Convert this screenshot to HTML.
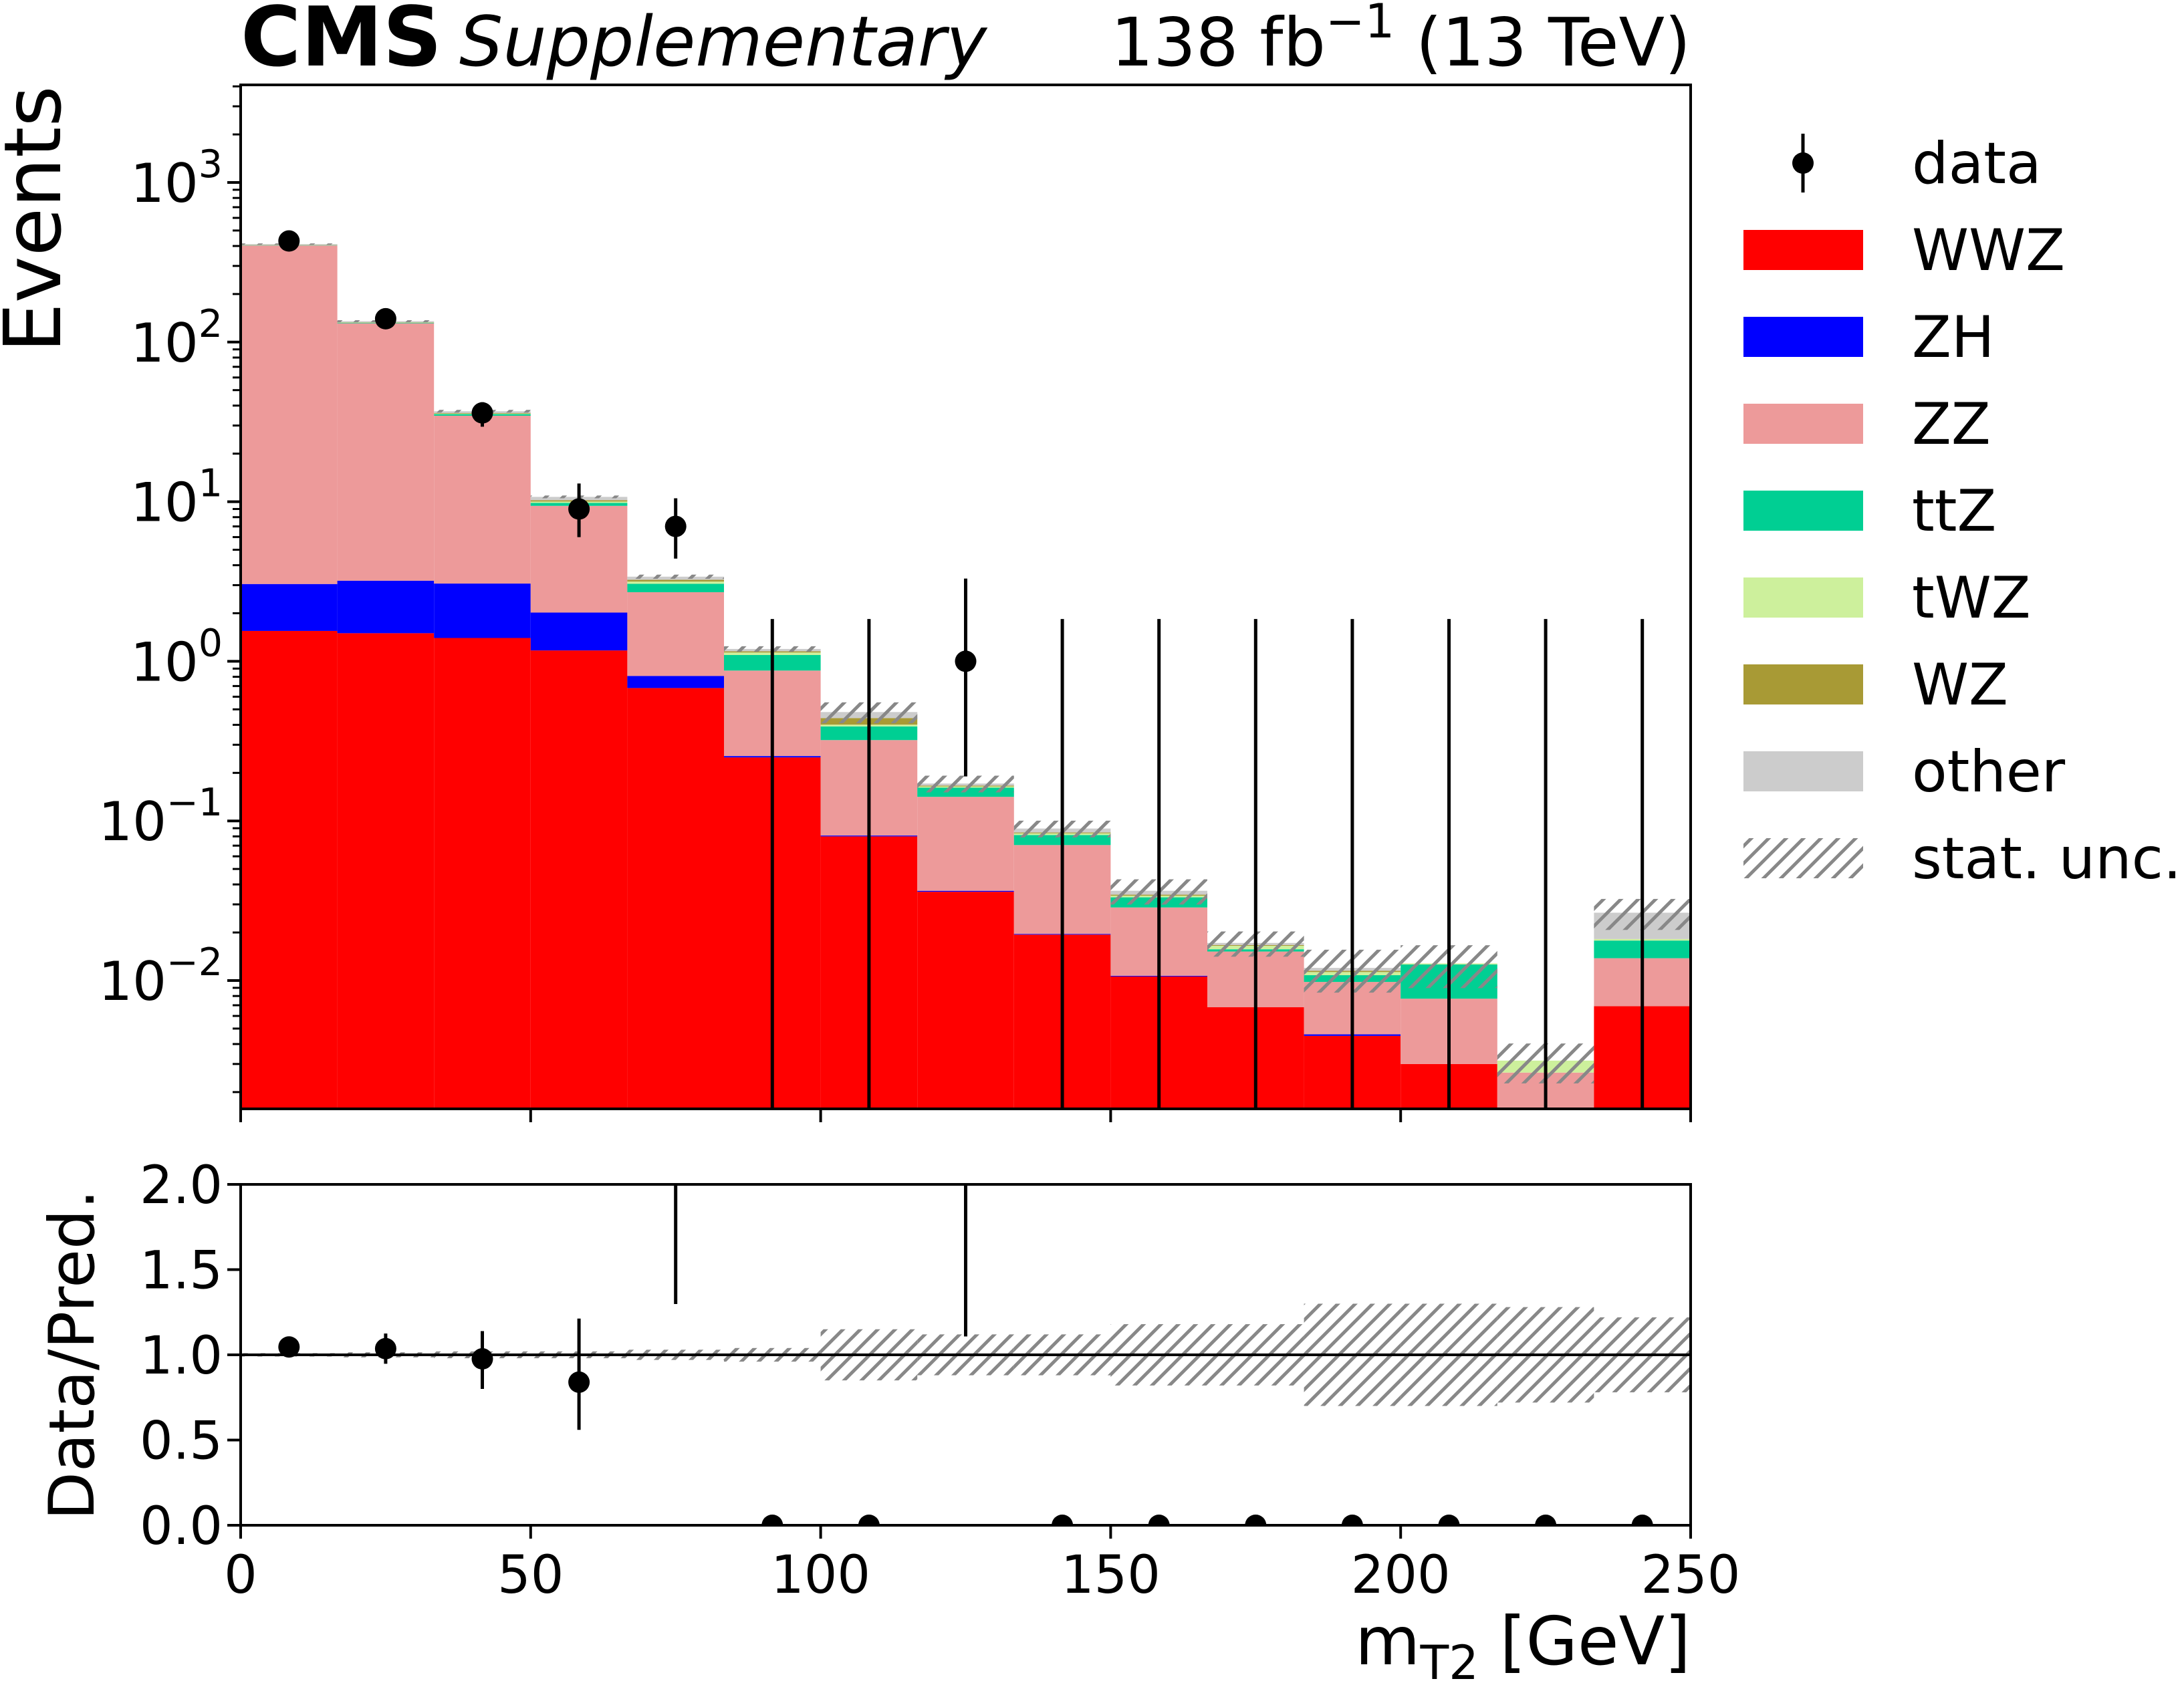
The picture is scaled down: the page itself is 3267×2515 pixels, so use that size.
<!DOCTYPE html>
<html><head><meta charset="utf-8"><title>CMS mT2</title>
<style>html,body{margin:0;padding:0;background:#fff}svg{display:block;font-family:"DejaVu Sans","Liberation Sans",sans-serif}</style>
</head><body>
<svg id="chart" xmlns="http://www.w3.org/2000/svg" width="3267" height="2515" viewBox="0 0 3267 2515">
<defs>
<pattern id="hatch" patternUnits="userSpaceOnUse" width="26" height="26">
<path d="M-6.5,6.5 L6.5,-6.5 M0,26 L26,0 M19.5,32.5 L32.5,19.5" stroke="#888" stroke-width="5"/>
</pattern>
<clipPath id="clipMain"><rect x="360" y="127" width="2169" height="1532"/></clipPath>
<clipPath id="clipRatio"><rect x="360" y="1772" width="2169" height="510"/></clipPath>
</defs>
<g id="mainStack" clip-path="url(#clipMain)"></g>
<g id="mainHatch" clip-path="url(#clipMain)"></g>
<g id="mainData" clip-path="url(#clipMain)"></g>
<g id="ratioBand" clip-path="url(#clipRatio)"></g>
<line x1="360" x2="2529" y1="2027" y2="2027" stroke="#000" stroke-width="4"/>
<g id="ratioData" clip-path="url(#clipRatio)"></g>
<rect x="360" y="127" width="2169" height="1532" fill="none" stroke="#000" stroke-width="4"/>
<rect x="360" y="1772" width="2169" height="510" fill="none" stroke="#000" stroke-width="4"/>
<g id="axes"></g>
<text x="360" y="98" font-size="123" font-weight="bold">CMS</text>
<text x="687" y="98" font-size="103" font-style="italic">Supplementary</text>
<text x="2529" y="98" font-size="100" text-anchor="end">138 fb<tspan font-size="70" dy="-42">−1</tspan><tspan dy="42"> (13 TeV)</tspan></text>
<text x="2529" y="2490" font-size="100" text-anchor="end">m<tspan font-size="70" dy="22">T2</tspan><tspan dy="-22"> [GeV]</tspan></text>
<text transform="translate(90,328) rotate(-90)" font-size="118" text-anchor="middle">Events</text>
<text transform="translate(140,2027) rotate(-90)" font-size="94" text-anchor="middle">Data/Pred.</text>
<g id="legend"></g>
</svg>
<script>
const binEdges=[0,16.667,33.333,50,66.667,83.333,100,116.667,133.333,150,166.667,183.333,200,216.667,233.333,250];
const wwz=[1.55,1.5,1.4,1.17,0.68,0.25,0.08,0.036,0.0194,0.0106,0.0068,0.0045,0.003,0,0.0069];
const zh=[1.5,1.7,1.67,0.85,0.13,0.005,0.001,0.0005,0.0002,0.0001,0,0.0001,0,0,0];
const zz=[400,128,31.5,7.4,1.9,0.62,0.24,0.105,0.051,0.018,0.0084,0.0052,0.0047,0.00265,0.0069];
const ttz=[1.5,1,0.8,0.4,0.35,0.22,0.07,0.02,0.011,0.0045,0.0005,0.001,0.0049,0,0.004];
const twz=[0.5,0.3,0.2,0.2,0.1,0.04,0.01,0.003,0.002,0.0008,0.0008,0.0005,0.0002,0.0005,0.0004];
const wz=[1,0.6,0.3,0.2,0.08,0.02,0.04,0.002,0.001,0.0005,0.0002,0.0002,0,0,0];
const other=[5,2,1,0.5,0.15,0.04,0.04,0.005,0.005,0.002,0.0005,0.0005,0,0,0.0084];
const statUnc=[0.01,0.015,0.02,0.02,0.03,0.04,0.15,0.12,0.12,0.18,0.18,0.3,0.3,0.28,0.22];
const dataVals=[430,140,36,9,7,0,0,1,0,0,0,0,0,0,0];
const dataLo=[410,128,29.5,6,4.4,0,0,0.19,0,0,0,0,0,0,0];
const dataHi=[452,152,42,13,10.5,1.84,1.84,3.3,1.84,1.84,1.84,1.84,1.84,1.84,1.84];
const xTicks=[0,50,100,150,200,250];
const yDecades=[-2,-1,0,1,2,3];
const ratioTicks=["0.0","0.5","1.0","1.5","2.0"];
const processNames=["WWZ","ZH","ZZ","ttZ","tWZ","WZ","other"];
const processColors=["#ff0000","#0000ff","#ed9a9a","#00cf93","#cdf09c","#a89a35","#cccccc"];

const NS="http://www.w3.org/2000/svg";
function X(g){return 360+g*2169/250;}
const LOGMIN=-2.80;
function Y(v){return 273-(Math.log10(Math.max(v,1e-6))-3)*238.8;}
function YR(r){return 2282-r*255;}
function mk(tag,attrs,parent){const e=document.createElementNS(NS,tag);for(const k in attrs)e.setAttribute(k,attrs[k]);parent.appendChild(e);return e;}

const series=[wwz,zh,zz,ttz,twz,wz,other];
const gS=document.getElementById('mainStack');
const gH=document.getElementById('mainHatch');
const gD=document.getElementById('mainData');
const gRB=document.getElementById('ratioBand');
const gRD=document.getElementById('ratioData');
const totals=[];
for(let i=0;i<15;i++){
  let base=0;
  const x0=X(binEdges[i]),x1=X(binEdges[i+1]);
  for(let s=0;s<series.length;s++){
    const v=series[s][i];
    if(v<=0)continue;
    const top=base+v;
    const yb=base<=0?1659:Y(base);
    const yt=Y(top);
    const r=mk('rect',{x:x0,y:yt,width:x1-x0,height:Math.max(0,yb-yt),fill:processColors[s]},gS);
    
    
    base=top;
  }
  totals.push(base);
  const u=statUnc[i];
  const h=mk('rect',{x:x0,y:Y(base*(1+u)),width:x1-x0,height:Y(base*(1-u))-Y(base*(1+u)),fill:'url(#hatch)'},gH);
  
  
  const hr=mk('rect',{x:x0,y:YR(1+u),width:x1-x0,height:YR(1-u)-YR(1+u),fill:'url(#hatch)'},gRB);
  
  
}
for(let i=0;i<15;i++){
  const xc=X((binEdges[i]+binEdges[i+1])/2);
  const d=dataVals[i];
  const lo=d>0?Y(dataLo[i]):1700;
  const l=mk('line',{x1:xc,x2:xc,y1:lo,y2:Y(dataHi[i]),stroke:'#000','stroke-width':5},gD);
  
  
  if(d>0){
    const c=mk('circle',{cx:xc,cy:Y(d),r:16,fill:'#000'},gD);
    
    
  }
  const t=totals[i];
  const r=d/t;
  if(d>0){
    const rl=mk('line',{x1:xc,x2:xc,y1:YR(dataLo[i]/t),y2:YR(dataHi[i]/t),stroke:'#000','stroke-width':5},gRD);
    
    
  }
  const rc=mk('circle',{cx:xc,cy:YR(r),r:16,fill:'#000'},gRD);
  
  
}
const gA=document.getElementById('axes');
for(const v of xTicks){
  const x=X(v);
  const t1=mk('line',{x1:x,x2:x,y1:1659,y2:1679,stroke:'#000','stroke-width':4},gA);
  
  
  const t2=mk('line',{x1:x,x2:x,y1:2282,y2:2302,stroke:'#000','stroke-width':4},gA);
  
  
  const tl=mk('text',{x:x,y:2383,'font-size':78,'text-anchor':'middle'},gA);
  tl.textContent=String(v);
  
  
}
for(const d of yDecades){
  const y=Y(Math.pow(10,d));
  const t=mk('line',{x1:340,x2:360,y1:y,y2:y,stroke:'#000','stroke-width':4},gA);
  
  
  const tl=mk('text',{x:333,y:y+29,'font-size':80,'text-anchor':'end'},gA);
  
  
  const a=document.createElementNS(NS,'tspan');a.textContent='10';tl.appendChild(a);
  const b=document.createElementNS(NS,'tspan');b.setAttribute('font-size','57');b.setAttribute('dy','-37');b.textContent=(d<0?'−':'')+Math.abs(d);tl.appendChild(b);
}
for(let d=-3;d<=3;d++){
  for(let k=2;k<=9;k++){
    const v=k*Math.pow(10,d);
    const lv=Math.log10(v);
    if(lv<LOGMIN||lv>3.61)continue;
    const y=Y(v);
    const t=mk('line',{x1:348,x2:360,y1:y,y2:y,stroke:'#000','stroke-width':3},gA);
    
    
  }
}
ratioTicks.forEach(function(lab){
  const y=YR(parseFloat(lab));
  const t=mk('line',{x1:340,x2:360,y1:y,y2:y,stroke:'#000','stroke-width':4},gA);
  
  
  const tl=mk('text',{x:333,y:y+28,'font-size':78,'text-anchor':'end'},gA);
  tl.textContent=lab;
  
  
});
const gL=document.getElementById('legend');
function legendRow(i){return 244+130*i;}
{
  const y=legendRow(0);
  const l=mk('line',{x1:2697,x2:2697,y1:y-44,y2:y+44,stroke:'#000','stroke-width':5},gL);
  
  
  const c=mk('circle',{cx:2697,cy:y,r:16,fill:'#000'},gL);
  
  
  const t=mk('text',{x:2860,y:y+30,'font-size':86},gL);
  t.textContent='data';
  
  
}
processNames.forEach(function(n,i){
  const y=legendRow(i+1);
  const r=mk('rect',{x:2608,y:y-30,width:179,height:60,fill:processColors[i]},gL);
  
  
  const t=mk('text',{x:2860,y:y+30,'font-size':86},gL);
  t.textContent=n;
  
  
});
{
  const y=legendRow(8);
  const r=mk('rect',{x:2608,y:y-30,width:179,height:60,fill:'url(#hatch)'},gL);
  
  
  const t=mk('text',{x:2860,y:y+30,'font-size':86},gL);
  t.textContent='stat. unc.';
  
  
}
</script>
</body></html>
